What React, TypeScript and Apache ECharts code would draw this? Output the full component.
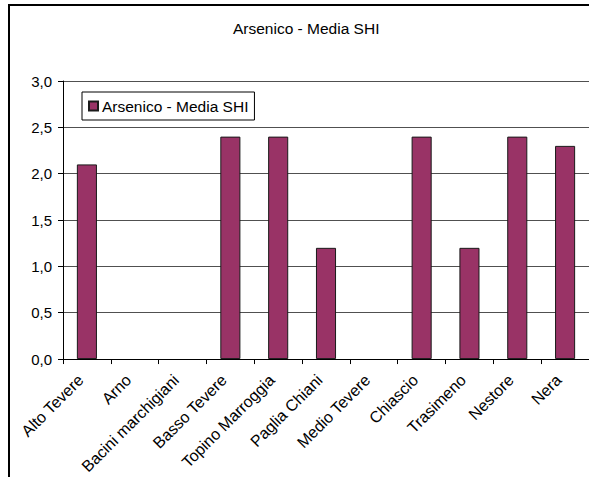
import React, { useEffect, useRef } from "react";
import * as echarts from "echarts";

const categories = [
  "Alto Tevere",
  "Arno",
  "Bacini marchigiani",
  "Basso Tevere",
  "Topino Marroggia",
  "Paglia Chiani",
  "Medio Tevere",
  "Chiascio",
  "Trasimeno",
  "Nestore",
  "Nera",
];

// Average arsenic value per basin (null = no measurement)
const arsenicoMedia: (number | null)[] = [2.1, null, null, 2.4, 2.4, 1.2, null, 2.4, 1.2, 2.4, 2.3];

const seriesName = "Arsenico - Media SHI";
const chartTitle = "Arsenico - Media SHI";

const FONT = "'Liberation Sans', Arial, sans-serif";

export default function App() {
  const ref = useRef<HTMLDivElement>(null);

  useEffect(() => {
    if (!ref.current) return;
    const chart = echarts.init(ref.current, undefined, { renderer: "svg" });
    chart.setOption({
      animation: false,
      backgroundColor: "#ffffff",
      textStyle: { fontFamily: FONT },
      title: {
        text: chartTitle,
        left: 233,
        top: 20,
        padding: 0,
        textStyle: { fontFamily: FONT, fontSize: 15.5, fontWeight: "normal", color: "#000" },
      },
      legend: {
        left: 82,
        top: 92,
        orient: "horizontal",
        padding: [6, 6, 6, 6],
        itemWidth: 9,
        itemHeight: 9,
        itemGap: 6,
        borderColor: "#000",
        borderWidth: 1,
        backgroundColor: "#fff",
        textStyle: { fontFamily: FONT, fontSize: 15.5, color: "#000", padding: [0, 0, 0, -1] },
        data: [{ name: seriesName, icon: "rect" }],
      },
      graphic: [
        {
          type: "rect",
          shape: { x: 9, y: 5, width: 620, height: 520 },
          style: { fill: "none", stroke: "#000", lineWidth: 2 },
          silent: true,
          z: 100,
        },
      ],
      grid: { left: 63, top: 81, width: 528, height: 280, containLabel: false },
      xAxis: {
        type: "category",
        data: categories,
        boundaryGap: true,
        axisLine: { lineStyle: { color: "#000", width: 1 } },
        axisTick: { show: true, length: 5, inside: false, lineStyle: { color: "#000" } },
        axisLabel: {
          interval: 0,
          rotate: 45,
          margin: 12,
          padding: [0, 9, 0, 0],
          fontFamily: FONT,
          fontSize: 16,
          color: "#000",
        },
        splitLine: { show: false },
      },
      yAxis: {
        type: "value",
        min: 0,
        max: 3,
        interval: 0.5,
        axisLine: { show: true, lineStyle: { color: "#000", width: 1 } },
        axisTick: { show: true, length: 5, inside: false, lineStyle: { color: "#000" } },
        axisLabel: {
          margin: 11,
          fontFamily: FONT,
          fontSize: 15,
          color: "#000",
          formatter: (v: number) => v.toFixed(1).replace(".", ","),
        },
        splitLine: { show: true, lineStyle: { color: "#505050", width: 1 } },
      },
      series: [
        {
          name: seriesName,
          type: "bar",
          data: arsenicoMedia,
          barWidth: "42%",
          itemStyle: { color: "#993366", borderColor: "#1a1a1a", borderWidth: 1 },
        },
      ],
    });
    return () => chart.dispose();
  }, []);

  return (
    <div
      ref={ref}
      style={{ position: "absolute", left: 0, top: 0, width: 589, height: 477, overflow: "hidden" }}
    />
  );
}
